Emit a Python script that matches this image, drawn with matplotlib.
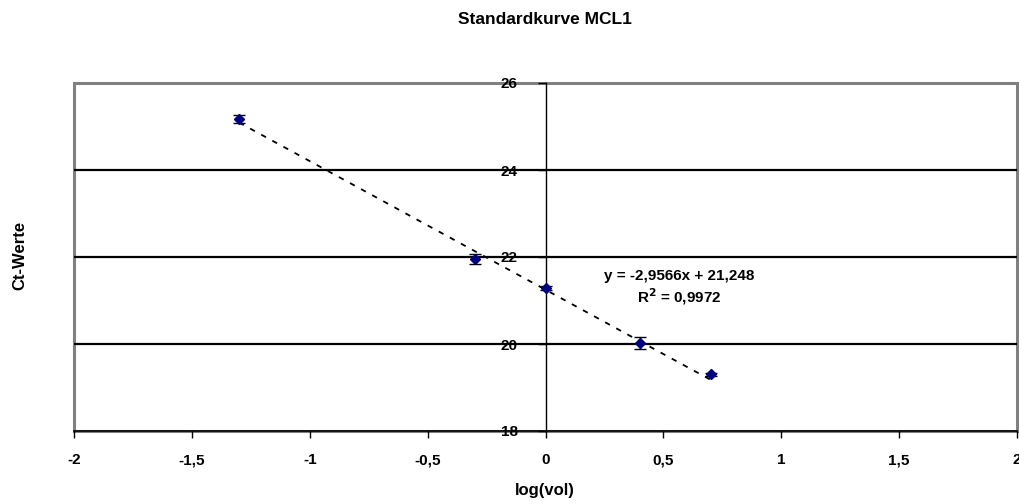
import numpy as np
import matplotlib
matplotlib.use("Agg")
import matplotlib.pyplot as plt
from matplotlib.patches import Rectangle

plt.rcParams['font.family'] = ['Liberation Sans', 'DejaVu Sans']
plt.rcParams['font.weight'] = 'bold'

# Messwerte (log Volumen vs. Ct)
log_vol = [-1.3, -0.3, 0.0, 0.4, 0.7]
ct_werte = [25.17, 21.96, 21.29, 20.02, 19.30]
ct_err = [0.10, 0.12, 0.05, 0.14, 0.04]

# Trendlinie aus Excel
slope = -2.9566
intercept = 21.248
r2 = 0.9972

x_ticks = [-2, -1.5, -1, -0.5, 0, 0.5, 1, 1.5, 2]
x_labels = ['-2', '-1,5', '-1', '-0,5', '0', '0,5', '1', '1,5', '2']
y_ticks = [18, 20, 22, 24, 26]

fig = plt.figure(figsize=(10.19, 5.04), dpi=100)
ax = fig.add_axes([74/1019, 1-431/504, 943/1019, 348/504])

ax.set_xlim(-2, 2)
ax.set_ylim(18, 26)

# Gitternetzlinien
for yv in y_ticks[1:-1]:
    ax.axhline(yv, color='black', lw=1.6, zorder=1)

# Rahmen der Zeichnungsfläche
ax.add_patch(Rectangle((0, 0), 1, 1, transform=ax.transAxes, fill=False,
                       ec='#808080', lw=2.2, zorder=0.5, clip_on=False))
for s in ['top', 'right']:
    ax.spines[s].set_visible(False)
ax.spines['bottom'].set_color('black')
ax.spines['bottom'].set_linewidth(1.2)
ax.spines['bottom'].set_zorder(3)
ax.spines['left'].set_position(('data', 0))
ax.spines['left'].set_color('black')
ax.spines['left'].set_linewidth(1.0)

ax.set_xticks(x_ticks)
ax.set_xticklabels(x_labels)
ax.set_yticks(y_ticks)
ax.set_yticklabels([str(v) for v in y_ticks])
ax.tick_params(axis='both', direction='out', width=1, color='black', labelsize=11)
ax.tick_params(axis='x', length=5, pad=11)
ax.tick_params(axis='y', length=6, pad=14)

# Trendlinie
xt = np.array([min(log_vol), max(log_vol)])
ax.plot(xt, slope * xt + intercept, ls=(0, (3, 4)), color='black', lw=1.3, zorder=2)

# Messpunkte mit Fehlerbalken
ax.errorbar(log_vol, ct_werte, yerr=ct_err, fmt='D', color='#000080', ms=5,
            mec='#000080', ecolor='black', elinewidth=1, capsize=4, capthick=1, zorder=4)

ax.text(0.565, 21.56, 'y = -2,9566x + 21,248', ha='center', va='center', fontsize=11)
ax.text(0.565, 21.08, 'R$^2$ = 0,9972', ha='center', va='center', fontsize=11)

fig.text(545/1019, 1-20/504, 'Standardkurve MCL1', ha='center', va='center', fontsize=12.5)
fig.text(545/1019, 1-491/504, 'log(vol)', ha='center', va='center', fontsize=12)
fig.text(20/1019, 1-255/504, 'Ct-Werte', ha='center', va='center', rotation=90, fontsize=12)

fig.savefig('out.png', dpi=100)
